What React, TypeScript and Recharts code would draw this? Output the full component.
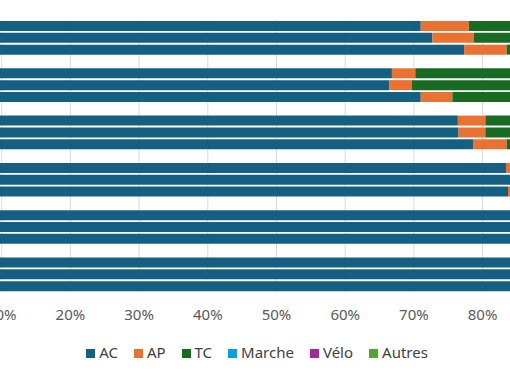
import React from 'react';
import { BarChart, Bar, XAxis, YAxis, CartesianGrid, Legend } from 'recharts';

// 6 groups of 3 bars, shares in % (AC, AP, TC, Marche, Vélo, Autres)
const groups = ['Groupe 1', 'Groupe 2', 'Groupe 3', 'Groupe 4', 'Groupe 5', 'Groupe 6'];
const subBars = ['a', 'b', 'c'];

const ac = [71.0, 72.7, 77.3, 66.8, 66.4, 71.0, 76.4, 76.5, 78.6, 83.4, 86.0, 83.7, 88.0, 87.5, 88.5, 90.0, 89.5, 90.5];
const ap = [7.0, 6.0, 6.2, 3.4, 3.3, 4.6, 4.0, 3.9, 4.9, 2.5, 2.0, 2.5, 2.0, 2.2, 1.8, 1.5, 1.6, 1.4];
const tc = [12.0, 11.3, 2.5, 22.0, 22.5, 16.0, 10.0, 10.0, 1.5, 1.0, 0.5, 1.0, 0.5, 0.6, 0.5, 0.4, 0.5, 0.4];
const marche = [6.0, 6.5, 10.0, 5.5, 5.5, 6.0, 7.0, 7.0, 12.0, 10.0, 9.0, 10.0, 7.5, 7.7, 7.2, 6.1, 6.4, 5.7];
const velo = [1.5, 1.5, 2.0, 1.0, 1.0, 1.0, 1.0, 1.0, 1.5, 1.5, 1.0, 1.3, 1.0, 1.0, 1.0, 1.0, 1.0, 1.0];
const autres = [2.5, 2.0, 2.0, 1.3, 1.3, 1.4, 1.6, 1.6, 1.5, 1.6, 1.5, 1.5, 1.0, 1.0, 1.0, 1.0, 1.0, 1.0];

const xTicks = [0, 10, 20, 30, 40, 50, 60, 70, 80, 90, 100];

const seriesNames = ['AC', 'AP', 'TC', 'Marche', 'Vélo', 'Autres'];
const seriesValues = [ac, ap, tc, marche, velo, autres];
const colors = ['#156082', '#E97132', '#196B24', '#0F9ED5', '#A02B93', '#4EA72E'];

const font = '"Noto Sans", Roboto, sans-serif';

// one empty row between groups to get the spacing
const rows: any[] = [];
groups.forEach((g, gi) => {
  if (gi > 0) rows.push({ name: `gap${gi}` });
  subBars.forEach((s, si) => {
    const i = gi * 3 + si;
    const row: any = { name: `${g} ${s}` };
    seriesNames.forEach((n, k) => {
      row[n] = seriesValues[k][i];
    });
    rows.push(row);
  });
});

export default function App() {
  return (
    <div
      style={{
        position: 'fixed',
        left: 0,
        top: 0,
        width: 510,
        height: 382,
        overflow: 'hidden',
        background: '#fff',
        fontFamily: font,
      }}
    >
      <div style={{ position: 'absolute', left: -100, top: 0 }}>
        <BarChart
          width={740}
          height={382}
          data={rows}
          layout="vertical"
          barSize={10}
          margin={{ top: 20, right: 20, left: 33, bottom: 38 }}
        >
          <CartesianGrid horizontal={false} stroke="#D9D9D9" />
          <XAxis
            type="number"
            domain={[0, 100]}
            ticks={xTicks}
            tickFormatter={(v) => `${v}%`}
            axisLine={false}
            tickLine={false}
            tickMargin={11}
            tick={{ fill: '#595959', fontSize: 15, fontFamily: font }}
            height={30}
          />
          <YAxis type="category" dataKey="name" hide />
          <Legend
            verticalAlign="bottom"
            iconType="square"
            iconSize={9}
            itemSorter={(item: any) => seriesNames.indexOf(item.value)}
            wrapperStyle={{ left: 110, width: 510, top: 341, bottom: 'auto' }}
            formatter={(value) => (
              <span style={{ color: '#404040', fontSize: 15, fontFamily: font, marginRight: 6 }}>{value}</span>
            )}
          />
          {seriesNames.map((n, k) => (
            <Bar key={n} dataKey={n} stackId="a" fill={colors[k]} isAnimationActive={false} />
          ))}
        </BarChart>
      </div>
    </div>
  );
}
